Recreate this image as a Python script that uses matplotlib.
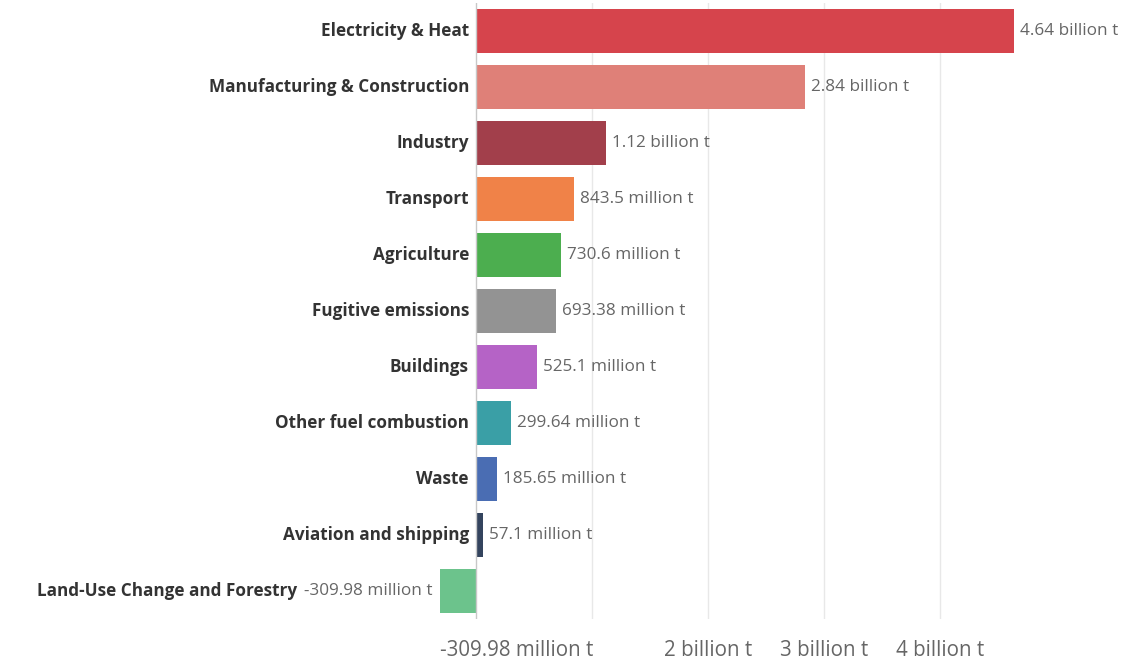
import matplotlib
matplotlib.use("Agg")
import matplotlib.pyplot as plt
from matplotlib.transforms import offset_copy

categories = ["Electricity & Heat", "Manufacturing & Construction", "Industry", "Transport",
              "Agriculture", "Fugitive emissions", "Buildings", "Other fuel combustion",
              "Waste", "Aviation and shipping", "Land-Use Change and Forestry"]
values_bt = [4.64, 2.84, 1.12, 0.8435, 0.7306, 0.69338, 0.5251, 0.29964, 0.18565, 0.0571, -0.30998]
value_labels = ["4.64 billion t", "2.84 billion t", "1.12 billion t", "843.5 million t",
                "730.6 million t", "693.38 million t", "525.1 million t", "299.64 million t",
                "185.65 million t", "57.1 million t", "-309.98 million t"]
colors = ["#d6444c", "#df8078", "#a23f4b", "#f08248", "#4cae4f", "#939393", "#b563c6",
          "#3a9fa6", "#4a6db3", "#34445e", "#6cc38c"]
tick_values = [-0.30998, 2, 3, 4]
tick_labels = ["-309.98 million t", "2 billion t", "3 billion t", "4 billion t"]
grid_values = [1, 2, 3, 4]

plt.rcParams['font.family'] = ['Open Sans', 'DejaVu Sans']

fig = plt.figure(figsize=(11.35, 6.64), dpi=100)
ax = fig.add_axes([440/1135, 1-619/664, (1014-440)/1135, 616/664])

y = list(range(len(categories)))
for g in grid_values:
    ax.axvline(g, color="#e8e8e8", lw=1, zorder=0)
ax.axvline(0, color="#c8c8c8", lw=1, zorder=3)

ax.barh(y, values_bt, height=0.78, color=colors, zorder=2)

fig.canvas.draw()
renderer = fig.canvas.get_renderer()
for yi, v, lab, c in zip(y, values_bt, value_labels, categories):
    if v >= 0:
        ax.text(v, yi, lab, ha="left", va="center", fontsize=12.3, color="#666666", clip_on=False,
                transform=offset_copy(ax.transData, fig=fig, x=6, y=0, units="dots"))
        ax.text(0, yi, c, ha="right", va="center", fontsize=12.3, fontweight="bold",
                color="#333333", clip_on=False,
                transform=offset_copy(ax.transData, fig=fig, x=-7, y=0, units="dots"))
    else:
        t = ax.text(v, yi, lab, ha="right", va="center", fontsize=12.3, color="#666666", clip_on=False,
                    transform=offset_copy(ax.transData, fig=fig, x=-8, y=0, units="dots"))
        w = t.get_window_extent(renderer).width
        ax.text(v, yi, c, ha="right", va="center", fontsize=12.3, fontweight="bold",
                color="#333333", clip_on=False,
                transform=offset_copy(ax.transData, fig=fig, x=-8 - w - 6, y=0, units="dots"))

ax.set_ylim(len(categories) - 0.5, -0.5)
ax.set_xlim(-0.30998, 4.64)
ax.set_yticks([])

ax.set_xticks(tick_values)
ax.set_xticklabels(tick_labels, fontsize=14.8, color="#666666")
ax.get_xticklabels()[0].set_ha("left")
ax.tick_params(axis="both", length=0, pad=15)
for s in ax.spines.values():
    s.set_visible(False)

fig.savefig("out.png", dpi=100, facecolor="white")
